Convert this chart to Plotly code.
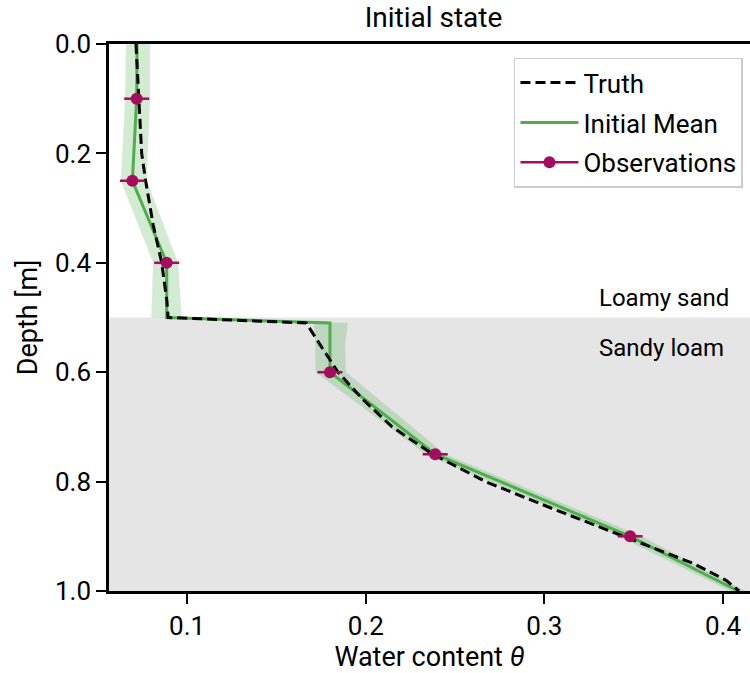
import plotly.graph_objects as go

# ---------------- data ----------------
truth_depth = [0.0, 0.1, 0.2, 0.25, 0.33, 0.4, 0.47, 0.5, 0.51, 0.55, 0.6, 0.65, 0.7,
               0.75, 0.8, 0.85, 0.9, 0.95, 0.98, 1.0]
truth_theta = [0.0714, 0.0728, 0.0746, 0.0768, 0.081, 0.0858, 0.0887, 0.0894, 0.1667,
               0.1745, 0.1845, 0.1985, 0.2148, 0.2375, 0.267, 0.305, 0.3445, 0.3836,
               0.4015, 0.409]

mean_depth = [0.0, 0.1, 0.25, 0.4, 0.5, 0.51, 0.6, 0.75, 0.9, 1.0]
mean_theta = [0.072, 0.0718, 0.0694, 0.0886, 0.0886, 0.180, 0.180, 0.2389, 0.348, 0.4085]

# ensemble spread (envelope of the initial ensemble members)
ens_depth = [0.0, 0.1, 0.25, 0.4, 0.5, 0.51, 0.55, 0.6, 0.75, 0.9, 1.0]
ens_low = [0.0658, 0.0653, 0.0629, 0.081, 0.080, 0.171, 0.1717, 0.172, 0.2335, 0.3415, 0.404]
ens_high = [0.0793, 0.0793, 0.0774, 0.095, 0.097, 0.190, 0.1885, 0.189, 0.2445, 0.3545, 0.4125]

obs_depth = [0.1, 0.25, 0.4, 0.6, 0.75, 0.9]
obs_theta = [0.0718, 0.0694, 0.0886, 0.180, 0.2389, 0.348]
obs_err = [0.007, 0.007, 0.007, 0.007, 0.007, 0.007]

x_ticks = [0.1, 0.2, 0.3, 0.4]
y_ticks = [0.0, 0.2, 0.4, 0.6, 0.8, 1.0]

layer_boundary = 0.5
layer_labels = ["Loamy sand", "Sandy loam"]

# ---------------- styling ----------------
FONT = "Roboto, 'DejaVu Sans', sans-serif"
GREEN = "#4daf4a"
OBS_C = "#a50b5e"

fig = go.Figure()

# ensemble band
fig.add_trace(go.Scatter(
    x=ens_low + ens_high[::-1],
    y=ens_depth + ens_depth[::-1],
    fill="toself", fillcolor="rgba(77,175,74,0.25)",
    line=dict(width=0), mode="lines", showlegend=False, hoverinfo="skip"))

# mean
fig.add_trace(go.Scatter(
    x=mean_theta, y=mean_depth, mode="lines", name="Initial Mean",
    line=dict(color=GREEN, width=3), legendgroup="b", legendrank=2))

# truth (drawn above the mean)
fig.add_trace(go.Scatter(
    x=truth_theta, y=truth_depth, mode="lines", name="Truth",
    line=dict(color="black", width=3, dash="10px,5px"), legendgroup="a", legendrank=1))

# observations (gaps keep points unconnected, legend shows line+marker)
ox, oy, oe = [], [], []
for t, d, e in zip(obs_theta, obs_depth, obs_err):
    ox += [t, None]
    oy += [d, None]
    oe += [e, 0]
fig.add_trace(go.Scatter(
    x=ox, y=oy, mode="lines+markers", name="Observations", connectgaps=False,
    line=dict(color=OBS_C, width=2.5),
    marker=dict(color=OBS_C, size=12),
    error_x=dict(type="data", array=oe, color=OBS_C, thickness=2.5, width=0),
    legendgroup="c", legendrank=3))

# soil layer shading
fig.add_shape(type="rect", xref="paper", yref="y", x0=0, x1=1,
              y0=layer_boundary, y1=1.0, fillcolor="#e5e5e5", line=dict(width=0),
              layer="below")

fig.add_annotation(x=0.3296, y=0.4635, xref="x", yref="y", text=layer_labels[0],
                   showarrow=False, xanchor="left", yanchor="middle",
                   font=dict(size=24, color="black", family=FONT))
fig.add_annotation(x=0.3296, y=0.555, xref="x", yref="y", text=layer_labels[1],
                   showarrow=False, xanchor="left", yanchor="middle",
                   font=dict(size=24, color="black", family=FONT))

fig.update_layout(
    width=750, height=673,
    margin=dict(l=109, r=0, t=44, b=82),
    paper_bgcolor="white", plot_bgcolor="white",
    font=dict(family=FONT, color="black", size=26),
    title=dict(text="Initial state", x=0.578, xref="container", xanchor="center",
               y=0.974, yref="container", yanchor="middle",
               font=dict(size=28, family=FONT, color="black")),
    showlegend=True,
    legend=dict(x=0.989, y=0.975, xanchor="right", yanchor="top",
                bgcolor="rgba(255,255,255,0.8)", bordercolor="#cccccc", borderwidth=1.5,
                font=dict(size=26, family=FONT), tracegroupgap=3, itemwidth=58,
                traceorder="grouped"),
)

fig.update_xaxes(
    range=[0.0563, 0.4151], tickvals=x_ticks, ticktext=[f"{v:.1f}" for v in x_ticks],
    ticks="outside", ticklen=10, tickwidth=2, tickcolor="black",
    showline=True, linecolor="black", linewidth=2.5, mirror=True,
    showgrid=False, zeroline=False,
    title=dict(text="Water content <i>θ</i>", font=dict(size=27, family=FONT), standoff=2),
    tickfont=dict(size=26, family=FONT))

fig.update_yaxes(
    range=[1.0, 0.0], tickvals=y_ticks, ticktext=[f"{v:.1f}" for v in y_ticks],
    ticks="outside", ticklen=10, tickwidth=2, tickcolor="black",
    showline=True, linecolor="black", linewidth=2.5, mirror=False,
    showgrid=False, zeroline=False,
    title=dict(text="Depth [m]", font=dict(size=27, family=FONT), standoff=10),
    tickfont=dict(size=26, family=FONT))

fig.write_html("out.html")
